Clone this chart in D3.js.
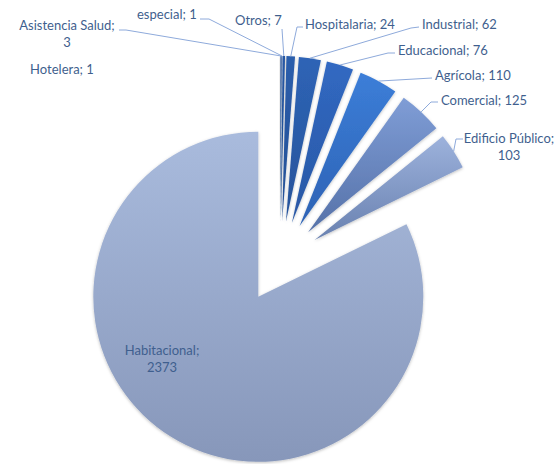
<!DOCTYPE html>
<head>
    <meta charset="utf-8">
    <script src="https://d3js.org/d3.v7.min.js"></script>
    <style>
        body { margin: 0; background: #fff; }
        svg text { font-family: Lato, "Open Sans", sans-serif; font-size: 13px; fill: #3f5f8e; }
    </style>
</head>
<body>
    <svg id="chart" width="560" height="464"></svg>
    <script>
        // data
        var categories = ["Hotelera", "Asistencia Salud", "especial", "Otros", "Hospitalaria", "Industrial",
            "Educacional", "Agrícola", "Comercial", "Edificio Público", "Habitacional"];
        var values = [1, 3, 1, 7, 24, 62, 76, 110, 125, 103, 2373];

        // slice colours (top / bottom of each gradient)
        var topColors = ["#2656a2", "#2656a2", "#2656a2", "#2759a6", "#2b5eac", "#2e64b6", "#3169c2", "#3c7ed8", "#7f9dd6", "#9db2dc", "#a9bbdd"];
        var bottomColors = ["#1f4888", "#1f4888", "#1f4888", "#204a8c", "#244f94", "#27539a", "#2957a4", "#2d62b4", "#5571a8", "#6981b0", "#8797ba"];

        // label placement: x, baseline y, anchor, split into two lines, leader points near the text
        var labelLayout = [
            { x: 62, y: 74, anchor: "middle", split: false, lead: null },
            { x: 67, y: 30, anchor: "middle", split: true, lead: [[119, 30], [126, 30]] },
            { x: 137, y: 19, anchor: "start", split: false, lead: [[200, 19], [209, 19]] },
            { x: 235, y: 25, anchor: "start", split: false, lead: [[282, 29]] },
            { x: 305, y: 29, anchor: "start", split: false, lead: [[303, 27], [297, 27]] },
            { x: 422, y: 29, anchor: "start", split: false, lead: [[419, 27], [411, 28]] },
            { x: 398, y: 55, anchor: "start", split: false, lead: [[395, 53], [388, 53]] },
            { x: 435, y: 80, anchor: "start", split: false, lead: [[432, 78]] },
            { x: 441, y: 105, anchor: "start", split: false, lead: [[438, 102], [431, 102]] },
            { x: 509, y: 143, anchor: "middle", split: true, lead: [[463, 139], [456, 139]] },
            { x: 162, y: 355, anchor: "middle", split: true, lead: null }
        ];

        var cx = 280, cy = 262, radius = 165, explode = 41, lineHeight = 17;

        var svg = d3.select("#chart");
        var defs = svg.append("defs");

        var shadow = defs.append("filter").attr("id", "shadow")
            .attr("x", "-20%").attr("y", "-20%").attr("width", "140%").attr("height", "140%");
        shadow.append("feDropShadow").attr("dx", 0).attr("dy", 1).attr("stdDeviation", 1.5)
            .attr("flood-color", "#000").attr("flood-opacity", 0.25);

        categories.forEach(function (c, i) {
            var g = defs.append("linearGradient").attr("id", "grad" + i)
                .attr("x1", 0).attr("y1", 0).attr("x2", 0).attr("y2", 1);
            g.append("stop").attr("offset", "0%").attr("stop-color", topColors[i]);
            g.append("stop").attr("offset", "100%").attr("stop-color", bottomColors[i]);
        });

        var data = categories.map(function (c, i) { return { name: c, value: values[i], i: i }; });

        var pie = d3.pie().sort(null).value(function (d) { return d.value; });
        var arcs = pie(data);
        var arc = d3.arc().innerRadius(0).outerRadius(radius);

        function dir(a) { return [Math.sin(a), -Math.cos(a)]; }

        var g = svg.append("g").attr("transform", "translate(" + cx + "," + cy + ")");

        g.selectAll("path.slice")
            .data(arcs)
            .join("path")
            .attr("class", "slice")
            .attr("transform", function (d) {
                var m = dir((d.startAngle + d.endAngle) / 2);
                return "translate(" + (m[0] * explode) + "," + (m[1] * explode) + ")";
            })
            .attr("d", arc)
            .attr("fill", function (d) { return "url(#grad" + d.data.i + ")"; })
            .attr("filter", "url(#shadow)");

        // leader lines
        svg.selectAll("polyline.leader")
            .data(arcs.filter(function (d) { return labelLayout[d.data.i].lead; }))
            .join("polyline")
            .attr("class", "leader")
            .attr("points", function (d) {
                var m = dir((d.startAngle + d.endAngle) / 2);
                var p = [cx + m[0] * (explode + radius), cy + m[1] * (explode + radius)];
                return labelLayout[d.data.i].lead.concat([p]).map(function (q) { return q.join(","); }).join(" ");
            })
            .attr("fill", "none")
            .attr("stroke", "#8eaadb")
            .attr("stroke-width", 1);

        // labels
        var labels = svg.selectAll("text.label")
            .data(data)
            .join("text")
            .attr("class", "label")
            .attr("text-anchor", function (d) { return labelLayout[d.i].anchor; })
            .attr("x", function (d) { return labelLayout[d.i].x; })
            .attr("y", function (d) { return labelLayout[d.i].y; });

        labels.each(function (d) {
            var L = labelLayout[d.i];
            var t = d3.select(this);
            if (L.split) {
                t.append("tspan").attr("x", L.x).text(d.name + ";");
                t.append("tspan").attr("x", L.x).attr("dy", lineHeight).text(d.value);
            } else {
                t.text(d.name + "; " + d.value);
            }
        });
    </script>
</body>
